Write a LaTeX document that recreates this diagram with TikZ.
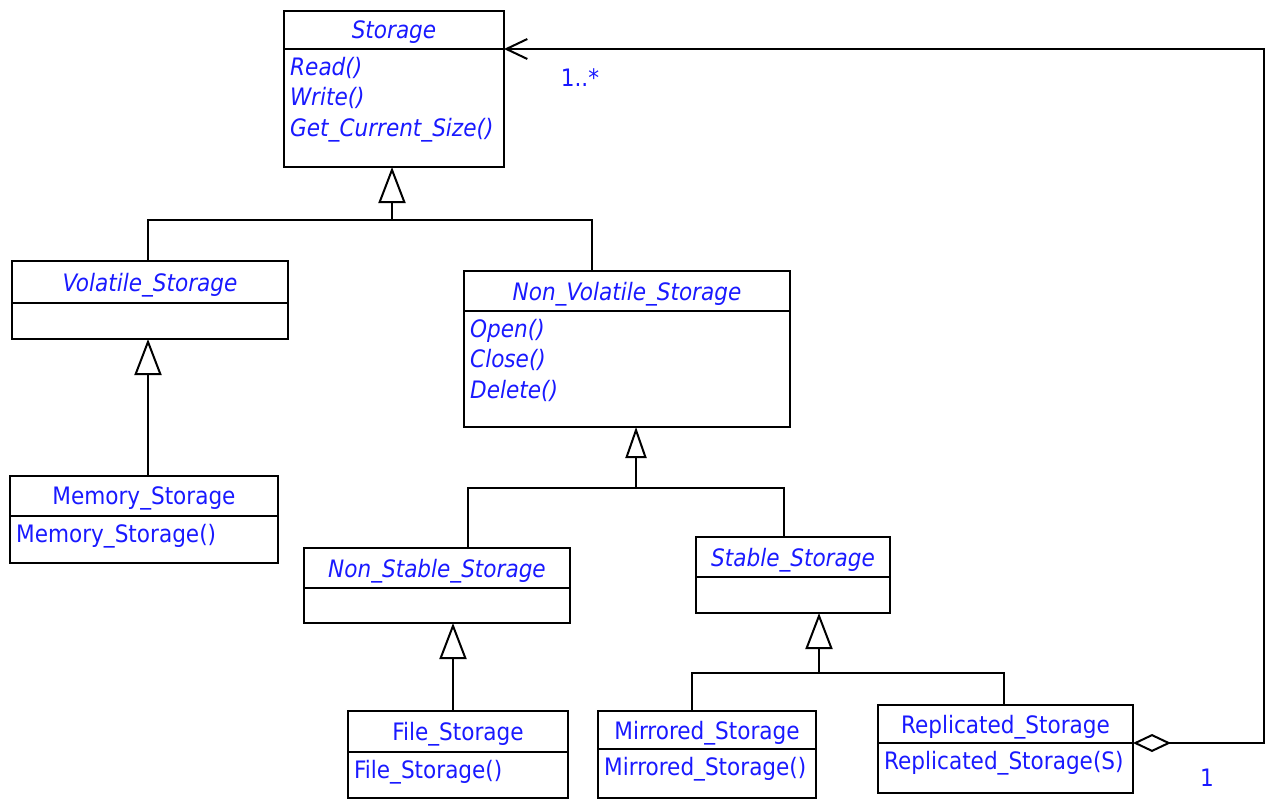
\documentclass[tikz,border=0pt]{standalone}
\usepackage{fontspec}
\setmainfont{DejaVu Sans Condensed}
\usetikzlibrary{arrows.meta, positioning}
\definecolor{umlblue}{RGB}{25,25,255}
\newcommand{\umlfont}{\fontsize{24}{30.5}\selectfont}
\tikzset{
  head/.style={draw, line width=2pt, outer sep=0pt, inner sep=0pt, text depth=0pt, anchor=north west, text=umlblue, font=\umlfont},
  body/.style={draw, line width=2pt, outer sep=0pt, inner sep=0pt},
  ops/.style={anchor=north west, align=left, inner xsep=6pt, inner ysep=8pt, text=umlblue, font=\umlfont},
  abs/.style={font=\umlfont\itshape},
  inh/.style={-{Triangle[open, length=36pt, width=27pt]}, line width=2pt},
  wire/.style={line width=2pt},
  agg/.style={{Diamond[open, length=38pt, width=18pt]}-{Straight Barb[length=21pt, width=20pt]}, line width=2pt},
  mult/.style={text=umlblue, font=\umlfont}
}

\begin{document}
\begin{tikzpicture}[x=1pt, y=-1pt]
	\useasboundingbox (0,0) rectangle (1271,800);
	% abstract classes
	\node[head, abs, minimum width=220, minimum height=38] (storage) at (284,11) {Storage};
	\node[body, minimum width=220, minimum height=118, below=0pt of storage] (storage-b) {};
	\node[ops, abs] (storage-m) at (storage-b.north west) {Read()\\Write()\\Get\_Current\_Size()};

	\node[head, abs, minimum width=276, minimum height=42] (vol) at (12,261) {Volatile\_Storage};
	\node[body, minimum width=276, minimum height=36, below=0pt of vol] (vol-b) {};

	\node[head, abs, minimum width=326, minimum height=40] (nonvol) at (464,271) {Non\_Volatile\_Storage};
	\node[body, minimum width=326, minimum height=116, below=0pt of nonvol] (nonvol-b) {};
	\node[ops, abs] (nonvol-m) at (nonvol-b.north west) {Open()\\Close()\\Delete()};

	\node[head, abs, minimum width=266, minimum height=40] (nonstab) at (304,548) {Non\_Stable\_Storage};
	\node[body, minimum width=266, minimum height=35, below=0pt of nonstab] (nonstab-b) {};

	\node[head, abs, minimum width=194, minimum height=40] (stab) at (696,537) {Stable\_Storage};
	\node[body, minimum width=194, minimum height=36, below=0pt of stab] (stab-b) {};

	% concrete classes
	\node[head, minimum width=268, minimum height=40] (mem) at (10,476) {Memory\_Storage};
	\node[body, minimum width=268, minimum height=47, below=0pt of mem] (mem-b) {};
	\node[ops] (mem-m) at (mem-b.north west) {Memory\_Storage()};

	\node[head, minimum width=220, minimum height=41] (file) at (348,711) {File\_Storage};
	\node[body, minimum width=220, minimum height=46, below=0pt of file] (file-b) {};
	\node[ops] (file-m) at (file-b.north west) {File\_Storage()};

	\node[head, minimum width=218, minimum height=38] (mirr) at (598,711) {Mirrored\_Storage};
	\node[body, minimum width=218, minimum height=49, below=0pt of mirr] (mirr-b) {};
	\node[ops] (mirr-m) at (mirr-b.north west) {Mirrored\_Storage()};

	\node[head, minimum width=255, minimum height=38] (repl) at (878,705) {Replicated\_Storage};
	\node[body, minimum width=255, minimum height=50, below=0pt of repl] (repl-b) {};
	\node[ops] (repl-m) at (repl-b.north west) {Replicated\_Storage(S)};

	% generalizations
	\coordinate (j1) at (392,220);
	\draw[inh] (j1) -- (j1 |- storage-b.south);
	\draw[wire] ([xshift=-2pt]vol.north) |- (j1) -| ([xshift=-35pt]nonvol.north);
	\draw[inh] ([xshift=4pt]mem.north) -- ([xshift=4pt]mem.north |- vol-b.south);

	\coordinate (j2) at (636,488);
	\draw[-{Triangle[open, length=31pt, width=21pt]}, line width=2pt] (j2) -- (j2 |- nonvol-b.south);
	\draw[wire] ([xshift=31pt]nonstab.north) |- (j2) -| ([xshift=-9pt]stab.north);
	\draw[inh] ([xshift=-5pt]file.north) -- ([xshift=-5pt]file.north |- nonstab-b.south);

	\coordinate (j3) at (819,673);
	\draw[inh] (j3) -- (j3 |- stab-b.south);
	\draw[wire] ([xshift=-15pt]mirr.north) |- (j3) -| ([xshift=-1.5pt]repl.north);

	% aggregation back to the root
	\coordinate (rim) at (1264,49);
	\draw[agg] (repl.south east) -| (rim) -- (storage.south east);
	\node[mult] (many) at (580,78) {1..*};
	\node[mult] (one) at (1207,778) {1};
\end{tikzpicture}
\end{document}
